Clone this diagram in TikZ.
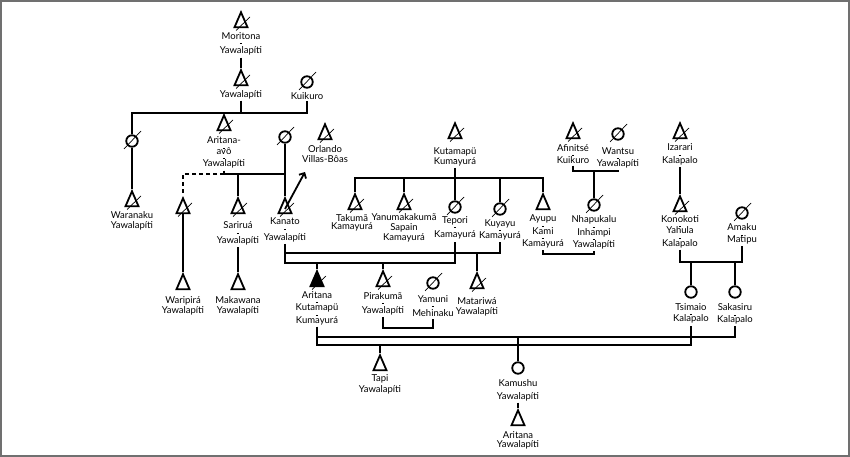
\documentclass[tikz,border=0pt]{standalone}
\usepackage{fontspec}
\setmainfont{Lato}
\usetikzlibrary{shapes.geometric, arrows.meta, positioning}
\definecolor{framegray}{RGB}{112,112,112}
% short dash between the lines of a name
\newcommand{\dsh}[1][0pt]{\\[-4pt]\rule[2pt]{2.5pt}{0.5pt}\\[\dimexpr-4.5pt+#1\relax]}

\begin{document}
\begin{tikzpicture}[x=1pt, y=-1pt, line width=1.8pt]
        \tikzstyle{male} = [draw, isosceles triangle, shape border rotate=90, isosceles triangle stretches, inner sep=0pt, minimum width=13pt, minimum height=15pt]
        \tikzstyle{female} = [draw, circle, inner sep=0pt, minimum size=11.5pt]
        \tikzstyle{slash} = [draw, line width=0.7pt]
        \tikzstyle{deadm} = [append after command={([shift={(-5pt,-7.5pt)}]\tikzlastnode.center) edge[slash] ([shift={(9pt,6pt)}]\tikzlastnode.center)}]
        \tikzstyle{deadf} = [append after command={([shift={(-8pt,-8pt)}]\tikzlastnode.center) edge[slash] ([shift={(9pt,10pt)}]\tikzlastnode.center)}]
        \tikzstyle{lbl} = [align=center, inner sep=1pt, font=\fontsize{9.5}{10.5}\selectfont]
        \tikzstyle{exile} = [draw, -{Straight Barb[length=4pt, width=8pt]}]

        \useasboundingbox (0,0) rectangle (850,457);
        \draw [framegray, line width=2pt] (1,1) rectangle (849,456);

        % marriage and sibling lines
        \coordinate (mYawa) at (0,113);
        \coordinate (mAvo) at (0,174);
        \coordinate (mAfin) at (0,171);
        \coordinate (sibKuta) at (0,178);
        \coordinate (mKuyayu) at (0,253);
        \coordinate (mAyupu) at (0,254);
        \coordinate (mKono) at (0,262);
        \coordinate (mTepori) at (0,263);
        \coordinate (mPira) at (0,328);
        \coordinate (mSaka) at (0,337);
        \coordinate (mTsim) at (0,345);

        % Yawalapiti
        \node [male, deadm] (moritona) at (241,23) {};
        \node [lbl, below=2.5pt of moritona] (moritonaL) {Moritona\dsh[2pt]Yawalapíti};
        \node [male, deadm] (yawa) at (241,81) {};
        \node [lbl, below=2pt of yawa] (yawaL) {Yawalapíti};
        \node [female, deadf] (kuikuro) at (307,82) {};
        \node [lbl, below=1.5pt of kuikuro] (kuikuroL) {Kuikuro};
        \node [female, deadf] (sister) at (132,141) {};
        \node [male, deadm] (avo) at (224,126) {};
        \node [lbl, below=4pt of avo] (avoL) {Aritana-\dsh[-2pt]avô\dsh Yawalapíti};
        \node [female, deadf] (avowife) at (285,137) {};
        \node [male, deadm] (waranaku) at (132,202) {};
        \node [lbl, below=2pt of waranaku] (waranakuL) {Waranaku\\[-0.5pt]Yawalapíti};
        \node [male, deadm] (adopted) at (183,209) {};
        \node [male] (waripira) at (183,285) {};
        \node [lbl, below=4pt of waripira] (waripiraL) {Waripirá\\Yawalapíti};
        \node [male, deadm] (sarirua) at (238,209) {};
        \node [lbl, below=6pt of sarirua] (saruaL) {Sariruá\dsh[2pt]Yawalapíti};
        \node [male] (makawana) at (238,285) {};
        \node [lbl, below=4pt of makawana] (makawanaL) {Makawana\\Yawalapíti};
        \node [male, deadm] (kanato) at (285,209) {};
        \node [lbl, below=2pt of kanato] (kanatoL) {Kanato\dsh[3pt]Yawalapíti};
        \coordinate (away) at (305,172);
        \node [male, deadm] (orlando) at (325,135) {};
        \node [lbl, below=3pt of orlando] (orlandoL) {Orlando\\[-0.5pt]Villas-Bôas};

        % Kamayura
        \node [male, deadm] (kutamapu) at (455,134) {};
        \node [lbl, below=7pt of kutamapu] (kutamapuL) {Kutamapü\dsh[-3pt]Kumayurá};
        \node [male, deadm] (takuma) at (355,205) {};
        \node [lbl, below=2pt of takuma, xshift=-3pt] (takumaL) {Takumã\\[-2pt]Kamayurá};
        \node [male, deadm] (yanuma) at (404,205) {};
        \node [lbl, below=1pt of yanuma] (yanumaL) {Yanumakakumã\\[-0.5pt]Sapain\\[-0.5pt]Kamayurá};
        \node [female, deadf] (tepori) at (455,207) {};
        \node [lbl, below=1pt of tepori] (teporiL) {Tepori\dsh[2pt]Kamayurá};
        \node [female, deadf] (kuyayu) at (500,209) {};
        \node [lbl, below=2pt of kuyayu] (kuyayuL) {Kuyayu\dsh Kamayurá};
        \node [male] (ayupu) at (543,205) {};
        \node [lbl, below=3pt of ayupu] (ayupuL) {Ayupu\dsh Kami\dsh Kamayurá};

        % Kuikuro and Kalapalo
        \node [male, deadm] (afinitse) at (573,134) {};
        \node [lbl, below=3pt of afinitse] (afinitseL) {Afinitsé\dsh Kuikuro};
        \node [female, deadf] (wantsu) at (618,134) {};
        \node [lbl, below=5pt of wantsu] (wantsuL) {Wantsu\dsh Yawalapíti};
        \node [female, deadf] (nhapukalu) at (594,205) {};
        \node [lbl, below=2pt of nhapukalu] (nhapukaluL) {Nhapukalu\dsh Inhampi\dsh Yawalapíti};
        \node [male, deadm] (izarari) at (680,134) {};
        \node [lbl, below=3pt of izarari] (izarariL) {Izarari\dsh Kalapalo};
        \node [male, deadm] (konokoti) at (680,207) {};
        \node [lbl, below=1pt of konokoti] (konokotiL) {Konokoti\dsh[-1pt]Yahula\dsh Kalapalo};
        \node [female, deadf] (amaku) at (742,213) {};
        \node [lbl, below=2pt of amaku] (amakuL) {Amaku\dsh[-1pt]Matipu};

        % children
        \node [male, deadm, fill=black] (aritana) at (317,282) {};
        \node [lbl, below=2pt of aritana] (aritanaL) {Aritana\dsh Kutamapü\dsh Kumayurá};
        \node [male, deadm] (pirakuma) at (383,282) {};
        \node [lbl, below=3pt of pirakuma] (pirakumaL) {Pirakumã\dsh[2pt]Yawalapíti};
        \node [female, deadf] (yamuni) at (433,283) {};
        \node [lbl, below=4pt of yamuni] (yamuniL) {Yamuni\dsh[2pt]Mehinaku};
        \node [male, deadm] (matariwa) at (477,284) {};
        \node [lbl, below=6pt of matariwa] (matariwaL) {Matariwá\\[-0.5pt]Yawalapíti};
        \node [female] (tsimaio) at (691,292) {};
        \node [lbl, below=3pt of tsimaio] (tsimaioL) {Tsimaio\dsh[-1pt]Kalapalo};
        \node [female] (sakasiru) at (735,292) {};
        \node [lbl, below=3pt of sakasiru] (sakasiruL) {Sakasiru\dsh[-1pt]Kalapalo};
        \node [male] (tapi) at (380,366) {};
        \node [lbl, below=1pt of tapi] (tapiL) {Tapi\\[1pt]Yawalapíti};
        \node [female] (kamushu) at (518,368) {};
        \node [lbl, below=3pt of kamushu] (kamushuL) {Kamushu\\[2pt]Yawalapíti};
        \node [male] (aritanaY) at (518,421) {};
        \node [lbl, below=3pt of aritanaY] (aritanaYL) {Aritana\\[-1pt]Yawalapíti};

        % connectors
        \draw (moritonaL.south) -- (yawa.north);
        \draw (yawaL.south) -- (yawa |- mYawa);
        \draw (sister.north) -- (sister |- mYawa) -- (kuikuro |- mYawa) -- (kuikuroL.south);
        \draw (avo.north) -- (avo |- mYawa);
        \draw (sister.south) -- (waranaku.north);
        \draw (avoL.south) -- (avo |- mAvo) -- (avowife |- mAvo) -- (avowife.south);
        \draw [dash pattern=on 4pt off 3pt] (avo |- mAvo) -- (adopted |- mAvo) -- (adopted.north);
        \draw (sarirua |- mAvo) -- (sarirua.north);
        \draw (kanato |- mAvo) -- (kanato.north);
        \draw (adopted.south) -- (waripira.north);
        \draw (saruaL.south) -- (makawana.north);
        \path [exile] (kanato.center) -- (away);

        \draw (kutamapuL.south) -- (kutamapu |- sibKuta);
        \draw (takuma.north) -- (takuma |- sibKuta) -- (ayupu |- sibKuta) -- (ayupu.north);
        \foreach \n in {yanuma, tepori, kuyayu}
            \draw (\n |- sibKuta) -- (\n.north);
        \draw (afinitseL.south) -- (afinitse |- mAfin) -- (wantsu |- mAfin) -- (wantsuL.south);
        \draw (nhapukalu |- mAfin) -- (nhapukalu.north);
        \draw (izarariL.south) -- (konokoti.north);
        \draw (konokotiL.south) -- (konokoti |- mKono) -- (amaku |- mKono) -- (amakuL.south);
        \foreach \n in {tsimaio, sakasiru}
            \draw (\n |- mKono) -- (\n.north);
        \draw (ayupuL.south) -- (ayupu |- mAyupu) -- (nhapukalu |- mAyupu) -- (nhapukaluL.south);

        \draw (kanatoL.south) -- (kanato |- mTepori) -- (tepori |- mTepori) -- (teporiL.south);
        \draw (kanato |- mKuyayu) -- (kuyayu |- mKuyayu) -- (kuyayuL.south);
        \foreach \n in {aritana, pirakuma}
            \draw (\n |- mTepori) -- (\n.north);
        \draw (matariwa |- mKuyayu) -- (matariwa.north);
        \draw (pirakumaL.south) -- (pirakuma |- mPira) -- (yamuni |- mPira) -- (yamuniL.south);

        \draw (aritanaL.south) -- (aritana |- mTsim) -- (tsimaio |- mTsim) -- (tsimaioL.south);
        \draw (aritana |- mSaka) -- (sakasiru |- mSaka) -- (sakasiruL.south);
        \draw (tapi |- mTsim) -- (tapi.north);
        \draw (kamushu |- mSaka) -- (kamushu.north);
        \draw (kamushuL.south) -- (aritanaY.north);
    \end{tikzpicture}
\end{document}
